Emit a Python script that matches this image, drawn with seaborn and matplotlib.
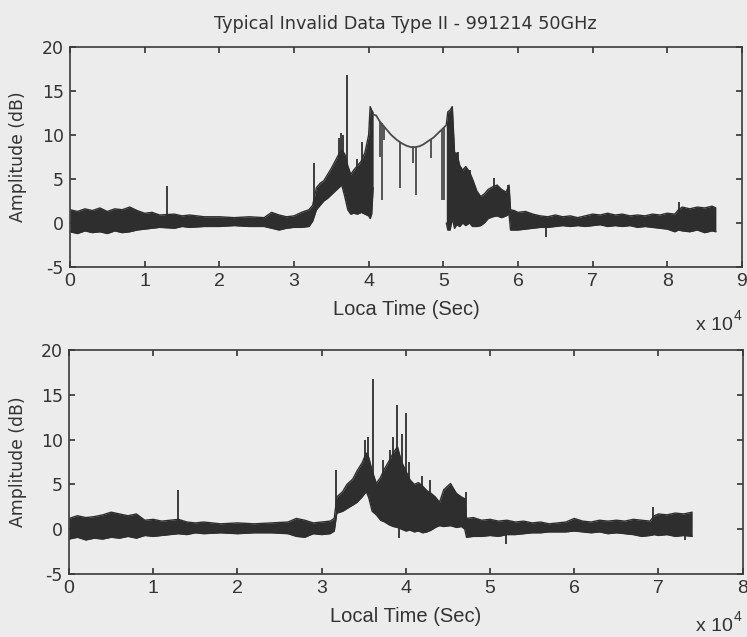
import matplotlib
matplotlib.use("Agg")
import matplotlib.pyplot as plt
from matplotlib import font_manager
import seaborn as sns

# ---------------- data (time in units of 1e4 s, amplitude in dB) ----------------
# Upper panel, first dense block: envelope of the trace
top_t_a = [0.00, 0.10, 0.20, 0.30, 0.40, 0.50, 0.60, 0.70, 0.80, 0.90,
           1.00, 1.10, 1.20, 1.40, 1.50, 1.60, 1.80,
           2.00, 2.20, 2.40, 2.60, 2.70, 2.80, 2.90,
           3.00, 3.10, 3.20, 3.25, 3.30, 3.35, 3.40, 3.45, 3.50, 3.55,
           3.60, 3.64, 3.68, 3.72, 3.76, 3.80, 3.85, 3.90, 3.95,
           4.00, 4.02, 4.04, 4.06]
top_hi_a = [1.5, 1.3, 1.6, 1.4, 1.7, 1.3, 1.6, 1.5, 1.8, 1.4,
            1.1, 1.2, 0.9, 1.0, 0.8, 0.9, 0.7,
            0.7, 0.6, 0.7, 0.6, 1.2, 0.9, 0.7,
            0.8, 1.2, 1.5, 2.0, 4.0, 4.5, 4.8, 5.5, 6.2, 7.0,
            7.8, 8.3, 7.8, 6.5, 5.5, 6.0, 6.5, 7.0, 8.0,
            10.0, 13.2, 12.8, 12.5]
top_lo_a = [-1.0, -1.2, -0.9, -1.1, -1.0, -1.2, -0.9, -1.1, -1.0, -0.8,
            -0.7, -0.6, -0.5, -0.6, -0.4, -0.5, -0.4,
            -0.4, -0.3, -0.4, -0.4, -0.6, -0.8, -0.6,
            -0.5, -0.5, -0.4, 0.2, 1.5, 2.0, 2.5, 2.8, 3.2, 3.6,
            4.0, 4.3, 3.0, 1.5, 1.0, 1.1, 1.0, 1.2, 1.0,
            0.8, 0.5, 1.0, 4.0]

# Upper panel, saturated plateau between the dense blocks
top_arc_t = [4.06, 4.10, 4.15, 4.20, 4.24, 4.30, 4.38, 4.45, 4.51,
             4.57, 4.62, 4.68, 4.73, 4.80, 4.87, 4.93, 4.98, 5.04]
top_arc_y = [12.3, 12.2, 11.5, 11.0, 10.6, 10.0, 9.4, 9.0, 8.75,
             8.6, 8.6, 8.7, 8.9, 9.3, 9.7, 10.2, 10.6, 11.1]
top_drop_t = [4.15, 4.18, 4.21, 4.42, 4.59, 4.63, 4.84, 4.98, 5.01]
top_drop_hi = [11.5, 11.3, 11.0, 9.2, 8.7, 8.6, 9.5, 10.6, 10.9]
top_drop_lo = [7.5, 2.6, 9.4, 4.0, 6.8, 3.2, 7.4, 2.6, 2.6]

# Upper panel, second dense block
top_t_b = [5.04, 5.06, 5.09, 5.12, 5.15, 5.18, 5.22, 5.26, 5.30, 5.35,
           5.39, 5.45, 5.50, 5.55, 5.60, 5.66, 5.72, 5.78, 5.84, 5.88,
           5.90, 5.95, 6.00,
           6.10, 6.20, 6.30, 6.40, 6.50, 6.60, 6.70, 6.80, 6.90, 7.00,
           7.10, 7.20, 7.30, 7.40, 7.50, 7.60, 7.70, 7.80, 7.90, 8.00, 8.10,
           8.15, 8.20, 8.30, 8.40, 8.50, 8.60, 8.65]
top_hi_b = [11.2, 12.6, 12.8, 13.2, 8.0, 7.9, 6.5, 6.0, 6.4, 5.8,
            5.0, 3.6, 3.0, 3.3, 3.8, 4.1, 4.3, 3.8, 3.5, 4.3,
            1.5, 1.4, 1.2,
            1.3, 1.0, 0.8, 0.7, 0.9, 0.7, 0.8, 0.6, 0.8, 1.0,
            0.9, 1.1, 0.9, 1.0, 0.8, 0.9, 0.8, 1.0, 0.9, 1.1, 1.0,
            1.5, 1.8, 1.6, 1.8, 1.7, 1.9, 1.7]
top_lo_b = [0.0, -0.8, -0.8, 0.5, -0.6, -0.2, -0.4, 0.0, -0.3, 0.0,
            -0.4, -0.4, -0.3, 0.0, 0.5, 0.7, 0.8, 0.6, 0.8, 1.0,
            -0.8, -0.8, -0.8,
            -0.7, -0.6, -0.5, -0.5, -0.4, -0.3, -0.4, -0.3, -0.4, -0.3,
            -0.2, -0.4, -0.3, -0.4, -0.3, -0.5, -0.4, -0.5, -0.6, -0.7, -1.0,
            -0.8, -0.9, -1.0, -0.8, -1.1, -0.9, -1.0]

# Upper panel, isolated spikes
top_spike_t = [1.30, 3.27, 3.60, 3.63, 3.66, 3.71, 3.84, 3.91,
               5.20, 5.30, 5.36, 5.68, 5.87, 6.38, 8.16]
top_spike_hi = [4.2, 6.8, 9.6, 10.2, 10.0, 16.8, 7.2, 9.2,
                8.1, 6.0, 6.0, 5.1, 4.3, -0.3, 2.4]
top_spike_lo = [0.5, 2.0, 5.0, 5.0, 5.0, 4.0, 3.0, 3.0,
                4.0, 3.0, 3.0, 2.0, 2.0, -1.6, 0.5]

# Lower panel: envelope of the trace
bot_t = [0.00, 0.10, 0.20, 0.30, 0.40, 0.50, 0.60, 0.70, 0.80, 0.90,
         1.00, 1.10, 1.20, 1.30, 1.40, 1.50, 1.60,
         1.80, 2.00, 2.20, 2.40, 2.60,
         2.70, 2.80, 2.90, 3.00, 3.10,
         3.15, 3.18, 3.25, 3.30, 3.37, 3.42, 3.48, 3.53, 3.56,
         3.60, 3.65, 3.70, 3.75, 3.80, 3.85, 3.90, 3.95, 4.00, 4.05,
         4.10, 4.15, 4.20, 4.25, 4.30, 4.35,
         4.40, 4.45, 4.53, 4.60, 4.66, 4.70, 4.72,
         4.80, 4.90, 5.00, 5.10, 5.20, 5.30, 5.40, 5.50, 5.60, 5.70, 5.80,
         5.90, 6.00, 6.10, 6.20, 6.30, 6.40, 6.50, 6.60, 6.70, 6.80, 6.90,
         6.95, 7.00, 7.10, 7.20, 7.30, 7.40]
bot_hi = [1.2, 1.5, 1.3, 1.4, 1.6, 1.9, 1.7, 1.5, 1.7, 1.0,
          1.1, 0.9, 1.0, 1.1, 0.8, 0.7, 0.8,
          0.6, 0.7, 0.6, 0.7, 0.8,
          1.2, 1.0, 0.7, 0.8, 0.9,
          1.2, 3.6, 4.2, 5.0, 5.6, 6.5, 7.4, 8.5, 8.0,
          6.5, 5.1, 5.8, 6.8, 7.6, 8.5, 9.2, 7.5, 6.5, 5.5,
          5.0, 5.2, 4.8, 4.3, 4.0, 3.6,
          3.0, 4.4, 5.1, 4.0, 3.6, 3.4, 1.2,
          1.3, 1.0, 1.1, 0.9, 1.0, 0.8, 0.9, 0.7, 0.8, 0.6, 0.7,
          0.8, 1.2, 0.9, 0.8, 1.0, 0.9, 1.0, 0.9, 1.1, 1.0, 0.9,
          1.5, 1.7, 1.6, 1.8, 1.7, 1.9]
bot_lo = [-1.1, -0.9, -1.2, -1.0, -1.1, -0.9, -1.0, -0.8, -1.0, -0.7,
          -0.8, -0.7, -0.6, -0.5, -0.6, -0.4, -0.5,
          -0.4, -0.5, -0.4, -0.4, -0.5,
          -0.8, -0.9, -0.5, -0.6, -0.5,
          -0.2, 1.8, 2.0, 2.3, 2.7, 3.0, 3.6, 4.2, 3.5,
          2.0, 1.6, 1.0, 0.8, 0.5, 0.3, 0.2, 0.0, -0.2, -0.1,
          -0.3, -0.2, -0.4, -0.3, -0.1, 0.2,
          0.4, 0.3, 0.4, 0.2, 0.3, 0.0, -0.9,
          -0.8, -0.8, -0.7, -0.8, -0.6, -0.6, -0.5, -0.4, -0.4, -0.3, -0.3,
          -0.3, -0.2, -0.3, -0.4, -0.3, -0.5, -0.4, -0.5, -0.6, -0.8, -0.7,
          -0.6, -0.7, -0.6, -0.8, -0.7, -0.8]

# Lower panel, isolated spikes
bot_spike_t = [1.30, 3.17, 3.52, 3.55, 3.61, 3.73, 3.81, 3.85, 3.90, 3.92,
               3.95, 4.00, 4.04, 4.19, 4.29, 4.71, 5.19, 6.93, 7.32]
bot_spike_hi = [4.4, 6.6, 10.0, 10.3, 16.8, 7.7, 8.8, 10.3, 13.9, 0.5,
                10.6, 13.0, 7.5, 5.9, 5.5, 4.2, -0.5, 2.5, -0.5]
bot_spike_lo = [0.5, 2.0, 5.0, 5.0, 4.0, 3.0, 3.0, 3.0, 3.0, -1.0,
                3.0, 2.0, 2.0, 2.0, 2.0, 1.0, -1.6, 0.5, -1.2]

title_text = "Typical Invalid Data Type II - 991214 50GHz"
top_xlabel = "Loca Time (Sec)"
bot_xlabel = "Local Time (Sec)"
ylabel_text = "Amplitude (dB)"
y_ticks = [-5, 0, 5, 10, 15, 20]
top_x_ticks = list(range(0, 10))
bot_x_ticks = list(range(0, 9))

# ---------------- styling ----------------
BG = "#ececec"
INK = "#2e2e2e"
TXT = "#333333"

sns.set_theme(style="ticks", rc={
    "figure.facecolor": BG,
    "axes.facecolor": BG,
    "axes.edgecolor": "#3a3a3a",
    "axes.linewidth": 1.2,
    "xtick.direction": "in",
    "ytick.direction": "in",
    "xtick.top": True,
    "ytick.right": True,
    "xtick.major.size": 4,
    "ytick.major.size": 4,
    "xtick.color": "#3a3a3a",
    "ytick.color": "#3a3a3a",
    "text.color": TXT,
    "axes.labelcolor": TXT,
})
plt.rcParams["font.family"] = ["DejaVu Sans"]

available = {f.name for f in font_manager.fontManager.ttflist}
if "Liberation Sans Narrow" in available:
    XFONT, XT_SIZE, XL_SIZE = "Liberation Sans Narrow", 15.5, 17.5
else:
    XFONT, XT_SIZE, XL_SIZE = "Liberation Sans", 14, 14.5

W, H = 747, 637
fig = plt.figure(figsize=(W / 100, H / 100), dpi=100)
ax1 = fig.add_axes([70 / W, 1 - 267 / H, 672 / W, 220.3 / H])
ax2 = fig.add_axes([69 / W, 1 - 574 / H, 673.7 / W, 224 / H])


def draw_band(ax, t, hi, lo):
    ax.fill_between(t, lo, hi, color=INK, linewidth=0)
    sns.lineplot(x=t, y=hi, ax=ax, color=INK, linewidth=1.0,
                 estimator=None, sort=False)
    sns.lineplot(x=t, y=lo, ax=ax, color=INK, linewidth=1.0,
                 estimator=None, sort=False)


# upper panel
draw_band(ax1, top_t_a, top_hi_a, top_lo_a)
draw_band(ax1, top_t_b, top_hi_b, top_lo_b)
sns.lineplot(x=top_arc_t, y=top_arc_y, ax=ax1, color="#4a4a4a",
             linewidth=1.3, estimator=None, sort=False)
ax1.vlines(top_drop_t, top_drop_lo, top_drop_hi, color="#4a4a4a", linewidth=1.3)
ax1.vlines(top_spike_t, top_spike_lo, top_spike_hi, color=INK, linewidth=1.3)

# lower panel
draw_band(ax2, bot_t, bot_hi, bot_lo)
ax2.vlines(bot_spike_t, bot_spike_lo, bot_spike_hi, color=INK, linewidth=1.3)

for ax, xt, xmax in ((ax1, top_x_ticks, 9), (ax2, bot_x_ticks, 8)):
    ax.set_xlim(0, xmax)
    ax.set_ylim(-5, 20)
    ax.set_xticks(xt, [str(v) for v in xt], fontfamily=XFONT,
                  fontsize=XT_SIZE, color=TXT)
    ax.set_yticks(y_ticks, [str(v) for v in y_ticks], fontfamily="DejaVu Sans",
                  fontsize=12.5, color=TXT)
    ax.tick_params(axis="x", pad=4)
    ax.tick_params(axis="y", pad=4.5)
    for s in ax.spines.values():
        s.set_visible(True)
    ax.set_ylabel(ylabel_text, fontsize=12.4, fontfamily="DejaVu Sans")

ax1.set_xlabel(top_xlabel, fontsize=XL_SIZE, fontfamily=XFONT)
ax2.set_xlabel(bot_xlabel, fontsize=XL_SIZE, fontfamily=XFONT)
ax1.xaxis.set_label_coords(0.5, -0.15)
ax2.xaxis.set_label_coords(0.5, -0.148)
ax1.yaxis.set_label_coords(-0.064, 0.5)
ax2.yaxis.set_label_coords(-0.0623, 0.5)

fig.text(405.5 / W, 1 - 29 / H, title_text, ha="center", va="baseline",
         fontsize=12.7, fontfamily="DejaVu Sans", color=TXT)

# exponent notes for the time axes
for base_y in (330, 631):
    fig.text(733 / W, 1 - base_y / H, "x 10", ha="right", va="baseline",
             fontsize=14, fontfamily=XFONT, color=TXT)
    fig.text(734 / W, 1 - (base_y - 10) / H, "4", ha="left", va="baseline",
             fontsize=10, fontfamily=XFONT, color=TXT)

fig.savefig("out.png", dpi=100, facecolor=BG)
